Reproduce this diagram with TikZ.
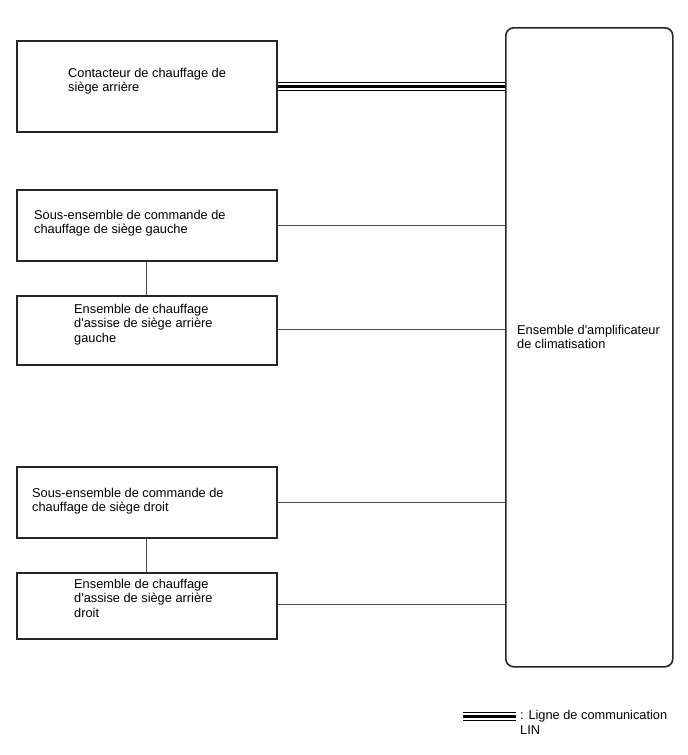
\documentclass[tikz,border=0pt]{standalone}
\usepackage{fontspec}
\setmainfont{Liberation Sans}
\newcommand{\apos}{\textquotesingle}
\begin{document}
\begin{tikzpicture}[x=1pt,y=-1pt,
  box/.style={draw=black!85,line width=1.6pt,minimum width=260pt,inner sep=0pt,anchor=north west},
  lbl/.style={anchor=base west,align=left,inner sep=0pt,font=\fontsize{12.8}{14.5}\selectfont},
  conn/.style={draw=black!70,line width=0.8pt},
  linthin/.style={draw=black,line width=1pt},
  linthick/.style={draw=black,line width=3.3pt}]
\useasboundingbox[fill=white] (0,0) rectangle (688,755);
% boxes
\node[box,minimum height=91pt] (b1) at (16,40) {};
\node[box,minimum height=71pt] (b2) at (16,189) {};
\node[box,minimum height=69pt] (b3) at (16,295) {};
\node[box,minimum height=71pt] (b4) at (16,466) {};
\node[box,minimum height=66pt] (b5) at (16,572) {};
\node[draw=black!85,line width=1.6pt,rounded corners=8pt,inner sep=0pt,anchor=north west,
      minimum width=167pt,minimum height=639pt] (amp) at (505,27) {};
% texts (anchor at baseline of last line)
\node[lbl] (t1) at (68,91.5) {Contacteur de chauffage de\\siège arrière};
\node[lbl] (t2) at (34,233.5) {Sous-ensemble de commande de\\chauffage de siège gauche};
\node[lbl] (t3) at (74,342) {Ensemble de chauffage\\d\apos assise de siège arrière\\gauche};
\node[lbl] (t4) at (32,511.5) {Sous-ensemble de commande de\\chauffage de siège droit};
\node[lbl] (t5) at (74,617) {Ensemble de chauffage\\d\apos assise de siège arrière\\droit};
\node[lbl] (tamp) at (517,348.5) {Ensemble d\apos amplificateur\\de climatisation};
% LIN connection
\draw[linthick] (b1.east) -- (b1.east -| amp.west);
\draw[linthin] ([yshift=4pt]b1.east) -- ([yshift=4pt]b1.east -| amp.west);
\draw[linthin] ([yshift=-4pt]b1.east) -- ([yshift=-4pt]b1.east -| amp.west);
% other connections
\draw[conn] (b2.east) -- (b2.east -| amp.west);
\draw[conn] ([yshift=1pt]b3.east) -- ([yshift=1pt]b3.east -| amp.west);
\draw[conn] (b4.east) -- (b4.east -| amp.west);
\draw[conn] ([yshift=1pt]b5.east) -- ([yshift=1pt]b5.east -| amp.west);
\draw[conn] (b2.south) -- (b3.north);
\draw[conn] (b4.south) -- (b5.north);
% legend
\coordinate (la) at (463,716.5);
\coordinate (lb) at (516,716.5);
\draw[linthick] (la) -- (lb);
\draw[linthin] ([yshift=4pt]la) -- ([yshift=4pt]lb);
\draw[linthin] ([yshift=-4pt]la) -- ([yshift=-4pt]lb);
\node[lbl] (tleg) at (520,734) {: Ligne de communication\\LIN};
\end{tikzpicture}
\end{document}
